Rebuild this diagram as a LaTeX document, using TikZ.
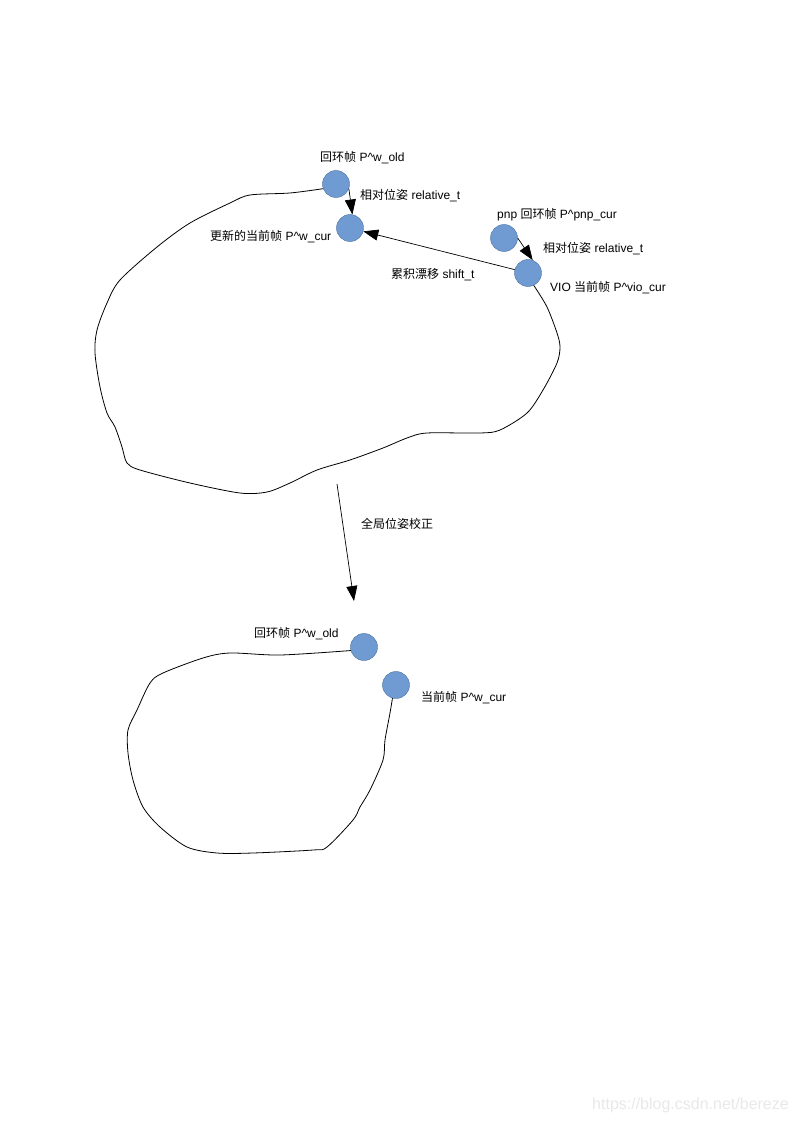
\documentclass[tikz,border=0pt]{standalone}
\usepackage{fontspec}
\setmainfont{Liberation Sans}
\newfontfamily\cjk{Noto Sans CJK SC}
\definecolor{PoseFill}{RGB}{112,155,210}
\definecolor{PoseLine}{RGB}{72,110,158}
\usetikzlibrary{arrows.meta}
\newcommand{\zh}[1]{{\cjk #1}}
\newcommand{\caret}{\textasciicircum}

\begin{document}
\begin{tikzpicture}[
    x=1pt, y=-1pt,
    pose/.style={circle, draw=PoseLine, fill=PoseFill, minimum size=27pt, inner sep=0pt},
    lbl/.style={font=\fontsize{12}{14}\selectfont, inner sep=0pt, anchor=west},
    jump/.style={-{Triangle[length=15pt,width=11pt]}, black, line width=0.7pt},
    track/.style={black, line width=0.8pt}
]
    \useasboundingbox (0,0) rectangle (794,1123);

    % before loop closure
    \node[pose] (wold) at (336,184) {};
    \node[pose] (wcur) at (350,228) {};
    \node[pose] (pnp)  at (504,238) {};
    \node[pose] (vio)  at (528,273) {};

    \draw[track] plot[smooth] coordinates {(wold.200) (290,193) (250,195) (230,203) (190,223) (157,247)
        (120,280) (107,303) (97,330) (95,353) (100,387) (107,413) (115,427) (122,447) (127,463)
        (140,470) (190,483) (240,493) (267,492) (290,483) (317,470) (350,460) (383,448) (407,438)
        (427,433) (480,433) (500,430) (527,413) (543,390) (557,363) (560,347) (557,333) (547,307)
        (vio.-65)};

    \draw[jump] (wold.-20) -- (wcur.80);
    \draw[jump] (pnp.east) -- (vio.70);
    \draw[jump] (vio) -- (wcur);

    \node[lbl] at (320,158) {\zh{回环帧} P\caret w\_old};
    \node[lbl] at (360,196) {\zh{相对位姿} relative\_t};
    \node[lbl] at (210,237) {\zh{更新的当前帧} P\caret w\_cur};
    \node[lbl] at (497,215) {pnp \zh{回环帧} P\caret pnp\_cur};
    \node[lbl] at (543,249) {\zh{相对位姿} relative\_t};
    \node[lbl] at (391,275) {\zh{累积漂移} shift\_t};
    \node[lbl] at (550,288) {VIO \zh{当前帧} P\caret vio\_cur};

    % correction
    \coordinate (fix0) at (337,484);
    \coordinate (fix1) at (354,601);
    \draw[jump] (fix0) -- (fix1);
    \node[lbl] at (361,524) {\zh{全局位姿校正}};

    % after loop closure
    \node[pose] (oldB) at (364,647) {};
    \node[pose] (curB) at (396,685) {};

    \draw[track] plot[smooth] coordinates {(oldB.195) (280,655) (230,653) (203,658) (163,673)
        (150,683) (137,710) (128,730) (128,753) (133,780) (143,807) (160,827) (187,847) (217,853)
        (253,853) (313,850) (327,847) (353,820) (360,807) (370,790) (383,760) (385,740) (390,713)
        (curB.-105)};

    \node[lbl] at (254,634) {\zh{回环帧} P\caret w\_old};
    \node[lbl] at (421,698) {\zh{当前帧} P\caret w\_cur};

    \node[lbl, font=\fontsize{16}{18}\selectfont, text=black!9] at (592,1105) {https://blog.csdn.net/bereze};
\end{tikzpicture}
\end{document}
